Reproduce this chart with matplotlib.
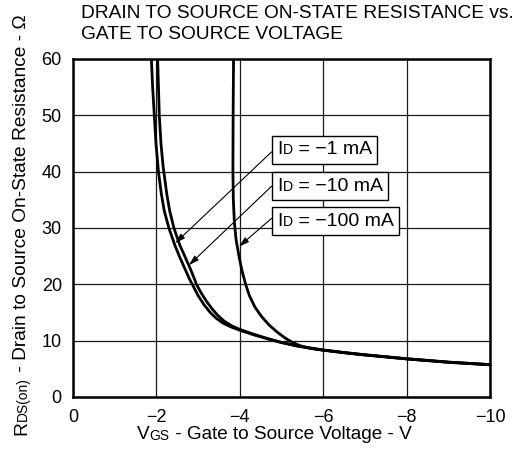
import numpy as np
import matplotlib
matplotlib.use("Agg")
import matplotlib.pyplot as plt
from matplotlib.offsetbox import TextArea, HPacker, AnnotationBbox

plt.rcParams['font.family'] = ['Liberation Sans', 'DejaVu Sans']

# values (VGS in V, RDS(on) in ohm)
vgs_1ma = [-1.88, -1.91, -1.95, -1.99, -2.05, -2.12, -2.19, -2.30, -2.44, -2.55, -2.67,
           -2.79, -2.86, -3.0, -3.14, -3.28, -3.43, -3.6, -3.8, -4.0, -4.35, -4.7,
           -5.0, -5.4, -6.0, -6.5, -7.0, -8.0, -9.0, -10.0]
rds_1ma = [60, 55, 50, 45, 40, 36, 33, 30, 27, 25, 23,
           21, 20, 18.0, 16.4, 15.1, 14.0, 13.1, 12.4, 11.85, 11.0, 10.25,
           9.65, 9.0, 8.3, 7.85, 7.45, 6.75, 6.15, 5.7]

vgs_10ma = [-2.03, -2.05, -2.07, -2.11, -2.16, -2.25, -2.32, -2.42, -2.56, -2.68, -2.80,
            -2.91, -2.96, -3.08, -3.2, -3.33, -3.47, -3.62, -3.8, -4.0, -4.35, -4.7,
            -5.0, -5.4, -6.0, -6.5, -7.0, -8.0, -9.0, -10.0]
rds_10ma = [60, 55, 50, 45, 41, 36, 33, 30, 27, 25, 23,
            21, 20, 18.4, 17.0, 15.7, 14.5, 13.5, 12.65, 12.0, 11.1, 10.3,
            9.7, 9.05, 8.35, 7.9, 7.5, 6.8, 6.2, 5.75]

vgs_100ma = [-3.85, -3.84, -3.835, -3.845, -3.87, -3.91, -3.98, -4.05, -4.14, -4.23,
             -4.36, -4.52, -4.70, -4.90, -5.08, -5.26, -5.45, -5.65, -5.85, -6.0,
             -6.5, -7.0, -8.0, -9.0, -10.0]
rds_100ma = [60, 50, 40, 35, 31, 28, 25, 22.5, 20, 18,
             16, 14.3, 12.8, 11.5, 10.5, 9.7, 9.1, 8.7, 8.45, 8.32,
             7.88, 7.48, 6.78, 6.18, 5.75]

labels = ["\u22121 mA", "\u221210 mA", "\u2212100 mA"]
# label box anchor (left edge, middle), arrow start and arrow tip for each curve
label_pos = [(-4.895, 43.9), (-4.895, 37.4), (-4.895, 31.2)]
arrow_start = [(-4.76, 43.5), (-4.76, 37.4), (-4.76, 31.7)]
arrow_tip = [(-2.45, 27.3), (-2.78, 23.4), (-3.98, 26.7)]

FS = 13          # tick labels
FS_LAB = 13.7    # x label
FS_Y = 13.8      # y label
FS_T = 13.8      # title
FS_BOX = 14      # current labels

fig = plt.figure(figsize=(5.15, 4.57), dpi=100)
ax = fig.add_axes([0.1417, 0.1313, 0.8098, 0.7396])

for v, r in [(vgs_1ma, rds_1ma), (vgs_10ma, rds_10ma), (vgs_100ma, rds_100ma)]:
    ax.plot(v, r, color='black', lw=2.0, solid_joinstyle='round')

ax.set_xlim(0, -10)
ax.set_ylim(0, 60)
ax.set_xticks([0, -2, -4, -6, -8, -10])
ax.set_xticklabels(["0", "\u22122", "\u22124", "\u22126", "\u22128", "\u221210"])
ax.set_yticks([0, 10, 20, 30, 40, 50, 60])
ax.tick_params(length=0, labelsize=FS)
ax.tick_params(axis='x', pad=9)
ax.tick_params(axis='y', pad=8)
ax.grid(True, color='#1a1a1a', lw=0.9)
for s in ax.spines.values():
    s.set_linewidth(1.8)

# arrows to the curves
for st, tip in zip(arrow_start, arrow_tip):
    ax.annotate('', xy=tip, xytext=st,
                arrowprops=dict(arrowstyle='-|>,head_length=0.6,head_width=0.18',
                                color='black', lw=0.8, shrinkA=0, shrinkB=0))

# current labels with small-cap subscript
for lab, pos in zip(labels, label_pos):
    parts = [TextArea("I", textprops=dict(fontsize=FS_BOX)),
             TextArea("D", textprops=dict(fontsize=FS_BOX * 0.72)),
             TextArea(" = " + lab, textprops=dict(fontsize=FS_BOX))]
    box = HPacker(children=parts, align='baseline', pad=0, sep=0)
    ab = AnnotationBbox(box, pos, xycoords='data', box_alignment=(0, 0.5),
                        frameon=True,
                        bboxprops=dict(boxstyle='square,pad=0.4', ec='black',
                                       fc='white', lw=1.0))
    ax.add_artist(ab)


def chain_text(x, y, parts, rotation=0):
    t = fig.text(x, y, parts[0][0], fontsize=parts[0][1], rotation=rotation,
                 ha='left' if rotation == 0 else 'right',
                 va='baseline' if rotation == 0 else 'bottom')
    for s, size in parts[1:]:
        if rotation == 0:
            t = ax.annotate(s, xy=(1, 0), xycoords=t, ha='left', va='bottom',
                            fontsize=size, annotation_clip=False)
        else:
            t = ax.annotate(s, xy=(1, 1), xycoords=t, ha='right', va='bottom',
                            rotation=90, fontsize=size, annotation_clip=False)
    return t


chain_text(137 / 515, 1 - 439 / 457,
           [("V", FS_LAB), ("GS", FS_LAB * 0.72),
            (" - Gate to Source Voltage - V", FS_LAB)])
chain_text(30 / 515, 1 - 435 / 457,
           [("R", FS_Y), ("DS(on)", FS_Y * 0.72),
            (" - Drain to Source On-State Resistance - \u03a9", FS_Y)], rotation=90)

fig.text(81 / 515, 1 - 17.5 / 457, "DRAIN TO SOURCE ON-STATE RESISTANCE vs.",
         fontsize=FS_T, ha='left', va='baseline')
fig.text(81 / 515, 1 - 39 / 457, "GATE TO SOURCE VOLTAGE",
         fontsize=FS_T, ha='left', va='baseline')

fig.savefig("out.png", dpi=100)
